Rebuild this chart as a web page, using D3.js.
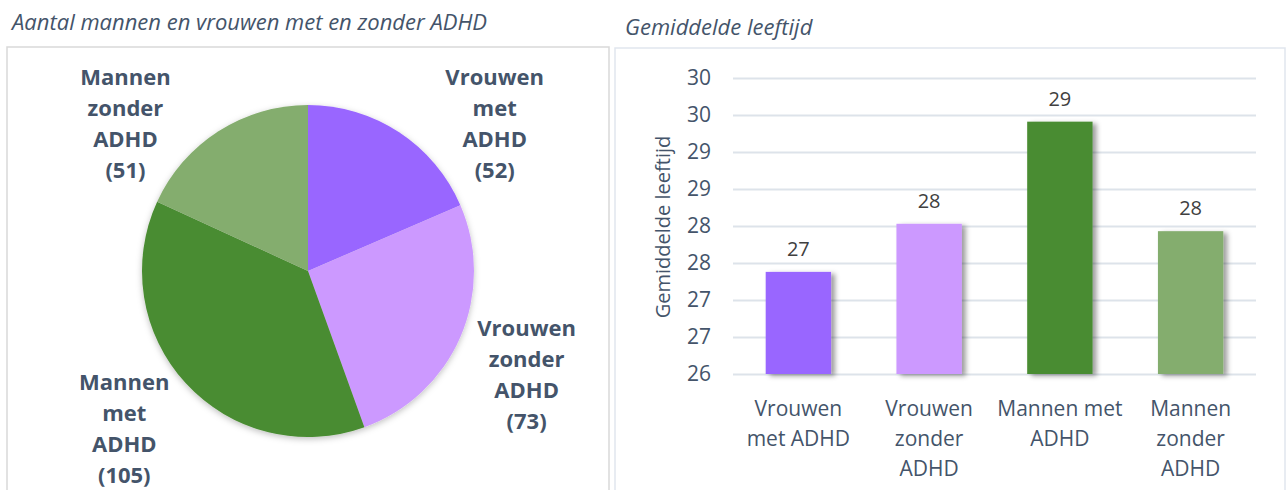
<!DOCTYPE html>
<html>
<head>
<meta charset="utf-8">
<script src="https://cdn.jsdelivr.net/npm/d3@7"></script>
<style>
    body { margin: 0; background: #fff; }
    text { font-family: "Open Sans", sans-serif; }
</style>
</head>
<body>
<svg id="canvas"></svg>
<script>
const groups = ["Vrouwen met ADHD", "Vrouwen zonder ADHD", "Mannen met ADHD", "Mannen zonder ADHD"];
const counts = [52, 73, 105, 51];
const pieLabelLines = [
    ["Vrouwen", "met", "ADHD"],
    ["Vrouwen", "zonder", "ADHD"],
    ["Mannen", "met", "ADHD"],
    ["Mannen", "zonder", "ADHD"]
];
const ages = [27.38, 28.03, 29.41, 27.93];
const barLabelLines = [
    ["Vrouwen", "met ADHD"],
    ["Vrouwen", "zonder", "ADHD"],
    ["Mannen met", "ADHD"],
    ["Mannen", "zonder", "ADHD"]
];
const yTicks = [26, 26.5, 27, 27.5, 28, 28.5, 29, 29.5, 30];
const colors = ["#9966FF", "#CC99FF", "#4A8C32", "#84AD6E"];

const textColor = "#44546A";

const width = 1287;
const height = 490;

const canvas = d3.select("#canvas")
    .attr("width", width)
    .attr("height", height);

const defs = canvas.append("defs");
defs.append("filter")
    .attr("id", "barShadow")
    .attr("x", "-20%").attr("y", "-10%")
    .attr("width", "150%").attr("height", "130%")
    .append("feDropShadow")
    .attr("dx", 4).attr("dy", 2)
    .attr("stdDeviation", 2.5)
    .attr("flood-color", "#000")
    .attr("flood-opacity", 0.38);
defs.append("filter")
    .attr("id", "pieShadow")
    .attr("x", "-20%").attr("y", "-20%")
    .attr("width", "140%").attr("height", "140%")
    .append("feDropShadow")
    .attr("dx", 0).attr("dy", 2)
    .attr("stdDeviation", 3)
    .attr("flood-color", "#000")
    .attr("flood-opacity", 0.25);

// panel frames
canvas.append("rect")
    .attr("x", 7).attr("y", 47)
    .attr("width", 602).attr("height", 460)
    .attr("fill", "none")
    .attr("stroke", "#d9d9d9")
    .attr("stroke-width", 1.5);

canvas.append("rect")
    .attr("x", 615).attr("y", 48)
    .attr("width", 670).attr("height", 460)
    .attr("fill", "none")
    .attr("stroke", "#e1e6ee")
    .attr("stroke-width", 1.5);

// titles
canvas.append("text")
    .attr("x", 12).attr("y", 30)
    .attr("font-size", 22)
    .attr("font-style", "italic")
    .attr("fill", textColor)
    .text("Aantal mannen en vrouwen met en zonder ADHD");

canvas.append("text")
    .attr("x", 625).attr("y", 35)
    .attr("font-size", 22)
    .attr("font-style", "italic")
    .attr("fill", textColor)
    .text("Gemiddelde leeftijd");

// ---- pie ----
const cx = 308, cy = 271, radius = 166;
const pie = d3.pie().sort(null).value(d => d)(counts);
const arc = d3.arc().innerRadius(0).outerRadius(radius);

const pieG = canvas.append("g")
    .attr("transform", `translate(${cx}, ${cy})`);

pieG.append("g")
    .attr("filter", "url(#pieShadow)")
    .selectAll("path")
    .data(pie)
    .enter()
    .append("path")
    .attr("d", arc)
    .attr("fill", (d, i) => colors[i]);

// labels outside the slices; pushed down and sideways when they would hit the top
const labelR = 242;
const lineH = 31;
const topLimit = -210;

pie.forEach((d, i) => {
    const a = (d.startAngle + d.endAngle) / 2 + 0.035;
    const lines = pieLabelLines[i].concat([`(${counts[i]})`]);
    const t = pieG.append("text")
        .attr("text-anchor", "middle")
        .attr("font-size", 22)
        .attr("font-weight", "bold")
        .attr("fill", textColor);
    const tspans = lines.map(line => t.append("tspan").text(line));

    const w = d3.max(tspans, s => s.node().getComputedTextLength());
    const h = lines.length * lineH;
    let lx = labelR * Math.sin(a);
    let ly = -labelR * Math.cos(a);
    if (ly - h / 2 < topLimit) {
        ly = topLimit + h / 2;
        const lastY = ly + h / 2 - lineH / 2;
        const edge = Math.sqrt(radius * radius - lastY * lastY) + 6;
        lx = Math.sign(lx) * (edge + w / 2);
    }
    tspans.forEach((s, j) => {
        s.attr("x", lx)
            .attr("y", ly + (j - (lines.length - 1) / 2) * lineH + 8);
    });
});

// ---- bars ----
const x = d3.scaleBand()
    .domain(groups)
    .range([733, 1256])
    .paddingInner(0.5)
    .paddingOuter(0.25);

const y = d3.scaleLinear()
    .domain([26, 30])
    .range([374, 78]);

const fmt = d3.format(".0f");

const grid = canvas.append("g")
    .attr("transform", "translate(733, 0)")
    .call(d3.axisLeft(y)
        .tickValues(yTicks)
        .tickSize(-(1256 - 733))
        .tickFormat(fmt)
        .tickPadding(22));

grid.select(".domain").remove();
grid.selectAll(".tick line")
    .attr("stroke", "#dde3ea")
    .attr("stroke-width", 2);
grid.selectAll(".tick text")
    .attr("font-family", "Open Sans, sans-serif")
    .attr("font-size", 21)
    .attr("fill", textColor);

canvas.append("text")
    .attr("transform", "translate(670, 227) rotate(-90)")
    .attr("text-anchor", "middle")
    .attr("font-size", 20)
    .attr("fill", textColor)
    .text("Gemiddelde leeftijd");

canvas.append("g")
    .attr("filter", "url(#barShadow)")
    .selectAll("rect")
    .data(ages)
    .enter()
    .append("rect")
    .attr("x", (d, i) => x(groups[i]))
    .attr("y", d => y(d))
    .attr("width", x.bandwidth())
    .attr("height", d => y(26) - y(d))
    .attr("fill", (d, i) => colors[i]);

canvas.selectAll(".value")
    .data(ages)
    .enter()
    .append("text")
    .attr("class", "value")
    .attr("x", (d, i) => x(groups[i]) + x.bandwidth() / 2)
    .attr("y", d => y(d) - 16)
    .attr("text-anchor", "middle")
    .attr("font-size", 20)
    .attr("fill", "#404040")
    .text(d => fmt(d));

barLabelLines.forEach((lines, i) => {
    const t = canvas.append("text")
        .attr("text-anchor", "middle")
        .attr("font-size", 21)
        .attr("fill", textColor);
    lines.forEach((line, j) => {
        t.append("tspan")
            .attr("x", x(groups[i]) + x.bandwidth() / 2)
            .attr("y", 416 + j * 30)
            .text(line);
    });
});
</script>
</body>
</html>
